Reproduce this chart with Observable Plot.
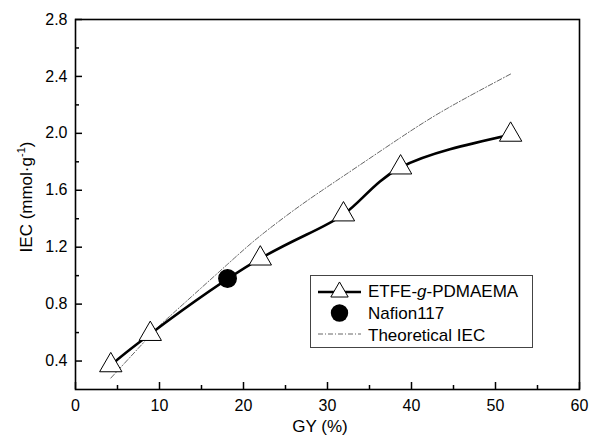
<!DOCTYPE html>
<html>
<head>
<meta charset="utf-8">
<script src="https://cdn.jsdelivr.net/npm/d3@7"></script>
<script src="https://cdn.jsdelivr.net/npm/@observablehq/plot@0.6"></script>
<style>
  html, body { margin: 0; padding: 0; background: #fff; }
  #chart svg { display: block; }
</style>
</head>
<body>
<div id="chart"></div>
<script>
// ---- data ----
const etfeGY  = [4.2, 8.9, 22.0, 31.9, 38.7, 51.8];
const etfeIEC = [0.37, 0.59, 1.12, 1.43, 1.76, 1.99];

const nafionGY  = [18.1];
const nafionIEC = [0.98];

const theoGY  = [4.2, 8.9, 11.7, 18.1, 22.0, 26.7, 31.9, 38.7, 44.4, 51.9];
const theoIEC = [0.28, 0.58, 0.74, 1.08, 1.28, 1.49, 1.70, 1.97, 2.18, 2.42];

const xMajor = [0, 10, 20, 30, 40, 50, 60];
const xMinor = [5, 15, 25, 35, 45, 55];
const yMajor = [0.4, 0.8, 1.2, 1.6, 2.0, 2.4, 2.8];
const yMinor = [0.6, 1.0, 1.4, 1.8, 2.2, 2.6];

const xLabel = "GY (%)";
const seriesNames = ["ETFE-g-PDMAEMA", "Nafion117", "Theoretical IEC"];

// ---- tables built from the arrays ----
const etfe = etfeGY.map((x, i) => ({x, y: etfeIEC[i]}));
const nafion = nafionGY.map((x, i) => ({x, y: nafionIEC[i]}));
const theo = theoGY.map((x, i) => ({x, y: theoIEC[i]}));

const W = 589, H = 437;
const font = "'Liberation Sans', Arial, Helvetica, sans-serif";
const theoStroke = "#555";
const theoDash = "5,2,1,2";

const chart = Plot.plot({
  width: W,
  height: H,
  marginLeft: 75,
  marginRight: 10,
  marginTop: 19,
  marginBottom: 48,
  style: {fontFamily: font, fontSize: "16px", color: "black", background: "white"},
  x: {domain: [0, 60]},
  y: {domain: [0.2, 2.8]},
  marks: [
    // theoretical curve
    Plot.line(theo, {x: "x", y: "y", curve: "natural", stroke: theoStroke, strokeWidth: 0.9, strokeDasharray: theoDash}),
    // experimental curve
    Plot.line(etfe, {x: "x", y: "y", curve: "natural", stroke: "black", strokeWidth: 2.6}),
    Plot.dot(etfe, {x: "x", y: "y", symbol: "triangle", r: 8.3, fill: "white", stroke: "black", strokeWidth: 1}),
    Plot.dot(nafion, {x: "x", y: "y", r: 8.7, fill: "black", stroke: "black"}),
    // axes: inward ticks
    Plot.axisX({ticks: xMajor, tickSize: -7, text: null, label: null, strokeWidth: 1.5}),
    Plot.axisX({ticks: xMinor, tickSize: -4, text: null, label: null, strokeWidth: 1.5}),
    Plot.axisX({ticks: xMajor, tickSize: 0, tickPadding: 10, label: null, tickFormat: d => String(d)}),
    Plot.axisY({ticks: yMajor, tickSize: -7, text: null, label: null, strokeWidth: 1.5}),
    Plot.axisY({ticks: yMinor, tickSize: -4, text: null, label: null, strokeWidth: 1.5}),
    Plot.axisY({ticks: yMajor, tickSize: 0, tickPadding: 8, label: null, tickFormat: d3.format(".1f")}),
    Plot.frame({stroke: "black", strokeWidth: 1.6})
  ]
});

document.getElementById("chart").appendChild(chart);

// ---- axis titles ----
const svg = d3.select(chart);
svg.append("text")
  .attr("x", 320).attr("y", 432)
  .attr("text-anchor", "middle")
  .attr("font-family", font).attr("font-size", 17)
  .attr("fill", "black")
  .text(xLabel);

const yl = svg.append("text")
  .attr("transform", "translate(32,197) rotate(-90)")
  .attr("text-anchor", "middle")
  .attr("font-family", font).attr("font-size", 17)
  .attr("fill", "black");
yl.append("tspan").text("IEC (mmol\u00B7g");
yl.append("tspan").attr("dy", -7).attr("font-size", 11).text("-1");
yl.append("tspan").attr("dy", 7).text(")");

// ---- legend ----
const lg = svg.append("g")
  .attr("font-family", font).attr("font-size", 17)
  .attr("fill", "black").attr("text-anchor", "start");
lg.append("rect").attr("x", 310.5).attr("y", 275.5).attr("width", 222).attr("height", 72)
  .attr("fill", "white").attr("stroke", "#444").attr("stroke-width", 1);

// row 1
lg.append("line").attr("x1", 318).attr("x2", 361).attr("y1", 292).attr("y2", 292)
  .attr("stroke", "black").attr("stroke-width", 2.6);
lg.append("path").attr("d", d3.symbol(d3.symbolTriangle2, Math.PI * 8.3 * 8.3)())
  .attr("transform", "translate(339.5,292)")
  .attr("fill", "white").attr("stroke", "black").attr("stroke-width", 1);
const t1 = lg.append("text").attr("x", 368).attr("y", 297).attr("text-anchor", "start");
t1.append("tspan").text("ETFE-");
t1.append("tspan").attr("font-style", "italic").text("g");
t1.append("tspan").text("-PDMAEMA");

// row 2
lg.append("circle").attr("cx", 339.5).attr("cy", 313).attr("r", 8.7).attr("fill", "black");
lg.append("text").attr("x", 368).attr("y", 319).attr("text-anchor", "start").text(seriesNames[1]);

// row 3
lg.append("line").attr("x1", 318).attr("x2", 361).attr("y1", 334).attr("y2", 334)
  .attr("stroke", theoStroke).attr("stroke-width", 0.9).attr("stroke-dasharray", theoDash);
lg.append("text").attr("x", 368).attr("y", 341).attr("text-anchor", "start").text(seriesNames[2]);
</script>
</body>
</html>
